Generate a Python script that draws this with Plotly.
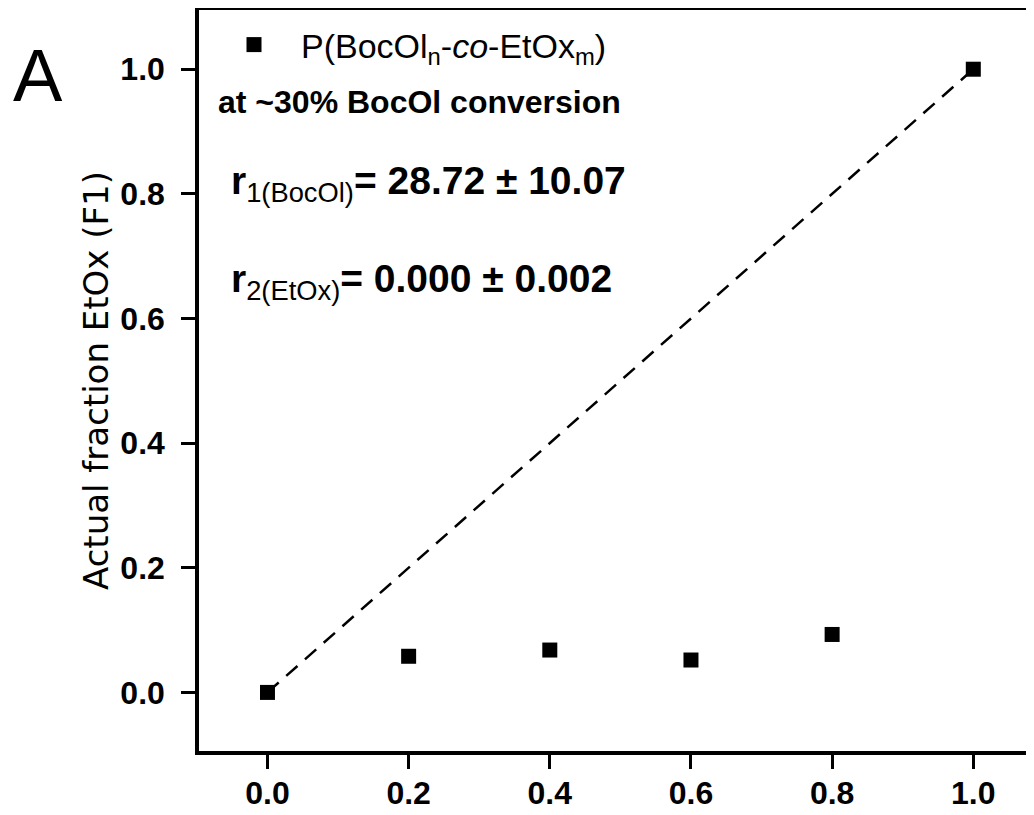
import plotly.graph_objects as go

# Data
feed_fraction = [0.0, 0.2, 0.4, 0.6, 0.8, 1.0]
actual_fraction = [0.0, 0.058, 0.068, 0.052, 0.093, 1.0]
fit_x = [0.0, 1.0]
fit_y = [0.0, 1.0]
tick_vals = [0.0, 0.2, 0.4, 0.6, 0.8, 1.0]
tick_text = ["0.0", "0.2", "0.4", "0.6", "0.8", "1.0"]

# page has an 8px body margin, so the figure is shifted by 8px
OFF = 8
W, H = 1034 - OFF, 815 - OFF
L, R, T, B = 191, 0, 2, 64
pw, ph = W - L - R, H - T - B
PLOT_LEFT_PAGE = OFF + L
PLOT_BOTTOM_PAGE = OFF + H - B

def px(x):
    return (x - PLOT_LEFT_PAGE) / pw

def py(y):
    return (PLOT_BOTTOM_PAGE - y) / ph

fig = go.Figure()
fig.add_trace(go.Scatter(
    x=fit_x, y=fit_y, mode="lines",
    line=dict(color="black", width=2.5, dash="15px,10px"),
    showlegend=False, hoverinfo="skip"))
fig.add_trace(go.Scatter(
    x=feed_fraction, y=actual_fraction, mode="markers",
    marker=dict(symbol="square", size=15, color="black"),
    name="P(BocOl<sub>n</sub>-<i>co</i>-EtOx<sub>m</sub>)"))

tickfont = dict(family="Liberation Sans, Arial, sans-serif", size=32, color="black", weight="bold")

fig.update_xaxes(
    range=[-0.097, 1.086], tickvals=tick_vals, ticktext=tick_text,
    showline=True, linecolor="black", linewidth=3.5, mirror=True,
    ticks="outside", ticklen=14, tickwidth=3, tickcolor="black",
    showgrid=False, zeroline=False, tickfont=tickfont, ticklabelstandoff=-3,
    automargin=False)
fig.update_yaxes(
    range=[-0.094, 1.095], tickvals=tick_vals, ticktext=tick_text,
    showline=True, linecolor="black", linewidth=3.5, mirror=False,
    ticks="outside", ticklen=14, tickwidth=3, tickcolor="black",
    showgrid=False, zeroline=False, tickfont=tickfont, ticklabelstandoff=10,
    title=dict(text="Actual fraction EtOx (F1)", standoff=2,
               font=dict(family="DejaVu Sans, sans-serif", size=34, color="black")),
    automargin=False)

fig.update_layout(
    width=W, height=H, margin=dict(l=L, r=R, t=T, b=B, pad=0),
    plot_bgcolor="white", paper_bgcolor="white",
    legend=dict(x=px(207), y=py(45), xanchor="left", yanchor="middle",
                itemwidth=84,
                bgcolor="rgba(0,0,0,0)", borderwidth=0,
                font=dict(family="Liberation Sans, Arial, sans-serif", size=34, color="black")),
    annotations=[
        dict(text="A", x=px(38), y=py(75), xref="paper", yref="paper",
             xanchor="center", yanchor="middle", showarrow=False,
             font=dict(family="Liberation Sans, Arial, sans-serif", size=74, color="black")),
        dict(text="<b>at ~30% BocOl conversion</b>", x=px(216), y=py(102),
             xref="paper", yref="paper", xanchor="left", yanchor="middle", showarrow=False,
             font=dict(family="Liberation Sans, Arial, sans-serif", size=32, color="black")),
        dict(text="<b>r</b><sub>1(BocOl)</sub><b>= 28.72 ± 10.07</b>", x=px(229), y=py(183),
             xref="paper", yref="paper", xanchor="left", yanchor="middle", showarrow=False,
             font=dict(family="Liberation Sans, Arial, sans-serif", size=39, color="black")),
        dict(text="<b>r</b><sub>2(EtOx)</sub><b>= 0.000 ± 0.002</b>", x=px(229), y=py(281),
             xref="paper", yref="paper", xanchor="left", yanchor="middle", showarrow=False,
             font=dict(family="Liberation Sans, Arial, sans-serif", size=39, color="black")),
    ],
)

fig.write_html("out.html")
